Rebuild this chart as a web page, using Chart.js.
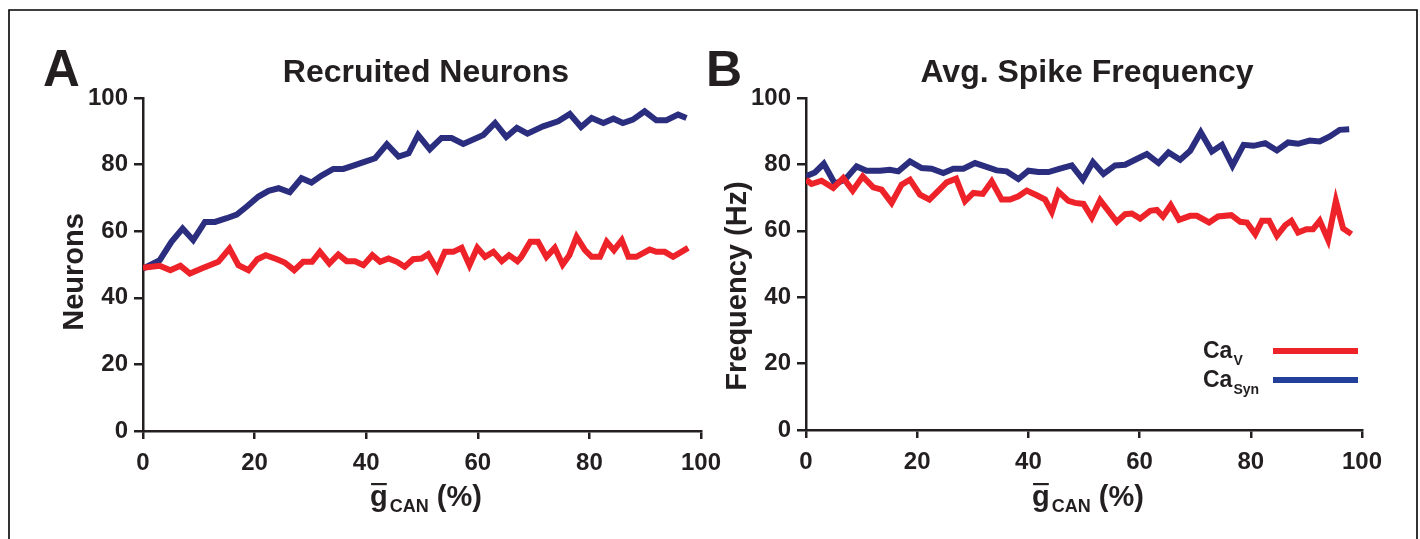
<!DOCTYPE html>
<html><head><meta charset="utf-8">
<script src="https://cdn.jsdelivr.net/npm/chart.js@4.4.1/dist/chart.umd.min.js"></script>
<style>
html,body{margin:0;padding:0;background:#fff;}
#wrap{position:relative;width:1420px;height:539px;overflow:hidden;background:#fff;}
canvas{position:absolute;left:0;top:0;}
</style></head><body>
<div id="wrap"><canvas id="cA" width="1420" height="539"></canvas><canvas id="cB" width="1420" height="539"></canvas></div>
<script>
// ---------- tick labels ----------
const xTicks = [0, 20, 40, 60, 80, 100];
const yTicks = [0, 20, 40, 60, 80, 100];

// ---------- Panel A: Recruited Neurons ----------
const neuronsCaV_x = [0, 3.0, 4.9, 6.7, 8.4, 10.5, 13.5, 15.5, 17.1, 18.9, 20.5, 22.0, 24.0, 25.4, 27.1, 28.7, 30.3, 31.7, 33.4, 35.0, 36.5, 38.0, 39.5, 41.1, 42.5, 44.0, 45.5, 46.9, 48.4, 49.9, 51.1, 52.7, 54.1, 55.6, 57.1, 58.5, 59.9, 61.3, 62.8, 64.3, 65.6, 67.1, 67.8, 69.4, 70.8, 72.3, 73.8, 75.2, 76.4, 77.7, 79.2, 80.4, 81.9, 83.1, 84.4, 85.8, 87.0, 88.4, 90.8, 92.0, 93.5, 95.0, 97.7];
const neuronsCaV_y = [49.0, 49.6, 48.3, 49.6, 47.3, 48.8, 50.8, 54.8, 49.8, 48.3, 51.6, 52.8, 51.6, 50.6, 48.3, 50.8, 50.8, 53.8, 50.3, 53.0, 51.0, 51.0, 49.8, 52.8, 50.8, 51.8, 50.8, 49.3, 51.6, 51.8, 53.1, 48.5, 53.8, 53.8, 55.0, 49.8, 55.0, 52.3, 53.8, 51.0, 52.8, 51.0, 52.3, 56.8, 56.8, 52.3, 55.0, 50.0, 52.8, 58.3, 54.3, 52.3, 52.3, 56.8, 54.3, 57.3, 52.3, 52.3, 54.5, 53.8, 53.8, 52.3, 55.0];
const neuronsCaSyn_x = [0, 3.0, 5.1, 7.1, 9.0, 11.1, 12.9, 15.0, 16.8, 18.6, 20.7, 22.5, 24.3, 26.3, 28.4, 30.2, 32.0, 34.1, 35.9, 37.7, 39.8, 41.6, 43.7, 45.8, 47.6, 49.3, 51.4, 53.5, 55.3, 57.4, 61.0, 63.1, 65.1, 67.0, 68.9, 71.7, 74.4, 76.5, 78.5, 80.4, 82.5, 84.3, 86.0, 87.8, 89.9, 92.0, 93.8, 95.9, 97.4];
const neuronsCaSyn_y = [48.8, 51.3, 56.8, 60.8, 57.3, 62.8, 62.8, 63.9, 65.0, 67.4, 70.4, 72.1, 72.9, 71.7, 75.9, 74.6, 76.7, 78.7, 78.7, 79.7, 80.9, 81.9, 86.1, 82.4, 83.4, 88.9, 84.6, 88.0, 88.0, 86.2, 88.9, 92.5, 88.3, 91.0, 89.3, 91.5, 93.0, 95.2, 91.3, 94.0, 92.5, 93.8, 92.5, 93.5, 96.0, 93.3, 93.3, 95.0, 94.0];

// ---------- Panel B: Avg. Spike Frequency ----------
const freqCaV_x = [0, 1.0, 2.8, 4.9, 6.7, 8.4, 10.2, 12.1, 13.6, 15.4, 17.2, 18.7, 20.5, 22.2, 24.0, 25.3, 27.0, 28.6, 30.1, 31.8, 33.4, 35.2, 36.7, 38.2, 39.7, 41.5, 43.0, 44.2, 45.4, 47.2, 48.4, 49.9, 51.4, 52.9, 55.9, 57.4, 58.6, 60.1, 61.9, 63.1, 64.2, 65.6, 67.1, 69.1, 70.3, 72.5, 74.1, 76.5, 78.1, 79.3, 80.8, 82.0, 83.3, 84.7, 86.2, 87.3, 88.5, 90.0, 91.2, 92.4, 93.9, 95.3, 96.6, 98.1];
const freqCaV_y = [75.4, 74.1, 75.1, 72.9, 75.9, 72.1, 76.4, 73.1, 72.4, 68.4, 73.9, 75.4, 70.9, 69.4, 72.4, 74.6, 75.7, 68.9, 71.4, 71.1, 74.9, 69.4, 69.4, 70.4, 72.1, 70.7, 69.4, 65.7, 71.8, 69.0, 68.4, 68.1, 64.0, 69.2, 62.7, 65.0, 65.2, 63.7, 66.0, 66.3, 64.3, 67.7, 63.3, 64.5, 64.5, 62.5, 64.3, 64.7, 62.7, 62.5, 59.0, 63.0, 63.0, 58.5, 61.7, 63.0, 59.5, 60.5, 60.5, 63.0, 57.3, 69.0, 60.7, 59.0];
const freqCaSyn_x = [0, 1.6, 3.2, 5.2, 7.0, 9.1, 10.9, 13.3, 15.1, 16.6, 18.7, 20.8, 22.6, 24.7, 26.5, 28.3, 30.4, 32.2, 34.3, 36.1, 38.2, 40.0, 41.8, 43.6, 45.7, 47.8, 49.8, 51.6, 53.5, 55.6, 57.4, 59.2, 61.3, 63.4, 65.2, 67.3, 69.1, 71.0, 73.0, 74.8, 76.7, 78.7, 80.5, 82.6, 84.7, 86.7, 88.5, 90.6, 92.4, 94.2, 96.0, 97.7];
const freqCaSyn_y = [76.4, 77.6, 80.2, 74.2, 75.4, 79.4, 78.1, 78.1, 78.4, 77.9, 80.9, 78.9, 78.7, 77.4, 78.7, 78.7, 80.4, 79.4, 78.2, 77.9, 75.6, 78.1, 77.7, 77.7, 78.7, 79.7, 75.4, 80.7, 77.1, 79.7, 79.9, 81.4, 83.1, 80.4, 83.6, 81.4, 84.1, 89.7, 83.9, 85.9, 79.6, 85.9, 85.6, 86.4, 84.2, 86.6, 86.2, 87.2, 86.9, 88.4, 90.4, 90.6];

// ---------- styling ----------
const FONT = '"Liberation Sans", Arial, Helvetica, sans-serif';
const INK = '#231F20';
const RED = '#EE2229';
const BLUE = '#2B2E7E';
const LEG_BLUE = '#22409A';

function pts(xs, ys) { return xs.map((x, i) => ({ x: x, y: ys[i] })); }

function axisOpts(isX, fitSize, tickLen, pad, ticksArr) {
  return {
    type: 'linear',
    min: 0, max: 100,
    afterBuildTicks: s => { s.ticks = ticksArr.map(v => ({ value: v })); },
    afterFit: s => { if (isX) s.height = fitSize; else s.width = fitSize; },
    ticks: {
      color: INK, padding: pad, autoSkip: false, maxRotation: 0, minRotation: 0,
      font: { family: FONT, size: 24, weight: 'bold' },
      callback: v => String(v)
    },
    grid: { display: true, drawOnChartArea: false, drawTicks: true, tickLength: tickLen, lineWidth: 2.5, color: INK, tickColor: INK },
    border: { display: true, width: 2.5, color: INK }
  };
}

function xTitle(ctx, cx, baseline) {
  const big = 'bold 29px ' + FONT, small = 'bold 18px ' + FONT;
  ctx.font = big; const wg = ctx.measureText('g').width;
  const wsp = ctx.measureText(' ').width; const wp = ctx.measureText('(%)').width;
  ctx.font = small; const wc = ctx.measureText('CAN').width;
  const total = wg + 2 + wc + wsp + wp;
  let x = cx - total / 2;
  ctx.fillStyle = INK; ctx.textAlign = 'left'; ctx.textBaseline = 'alphabetic';
  ctx.font = big; ctx.fillText('g', x, baseline);
  ctx.fillRect(x + 1, baseline - 23, wg - 2, 2.2);
  x += wg + 2;
  ctx.font = small; ctx.fillText('CAN', x, baseline + 6);
  x += wc + wsp;
  ctx.font = big; ctx.fillText('(%)', x, baseline);
}

function yTitle(ctx, text, bx, cy) {
  ctx.save();
  ctx.translate(bx, cy); ctx.rotate(-Math.PI / 2);
  ctx.font = 'bold 29px ' + FONT; ctx.fillStyle = INK;
  ctx.textAlign = 'center'; ctx.textBaseline = 'alphabetic';
  ctx.fillText(text, 0, 0);
  ctx.restore();
}

function textAt(ctx, text, x, y, font, align) {
  ctx.font = font; ctx.fillStyle = INK; ctx.textAlign = align; ctx.textBaseline = 'alphabetic';
  ctx.fillText(text, x, y);
}

const decorA = {
  id: 'decorA',
  afterDraw(chart) {
    const ctx = chart.ctx, a = chart.chartArea;
    ctx.save();
    // figure frame
    ctx.strokeStyle = '#000'; ctx.lineWidth = 1.6;
    ctx.beginPath(); ctx.moveTo(9, 539); ctx.lineTo(9, 10); ctx.lineTo(1417, 10); ctx.lineTo(1417, 539); ctx.stroke();
    textAt(ctx, 'A', 43, 86, 'bold 51px ' + FONT, 'left');
    textAt(ctx, 'Recruited Neurons', (a.left + a.right) / 2 + 4, 82, 'bold 32px ' + FONT, 'center');
    yTitle(ctx, 'Neurons', 83, 272);
    xTitle(ctx, (a.left + a.right) / 2 + 4, 506);
    ctx.restore();
  }
};

const decorB = {
  id: 'decorB',
  afterDraw(chart) {
    const ctx = chart.ctx, a = chart.chartArea;
    ctx.save();
    textAt(ctx, 'B', 706, 86, 'bold 50px ' + FONT, 'left');
    textAt(ctx, 'Avg. Spike Frequency', 1087, 82, 'bold 32px ' + FONT, 'center');
    yTitle(ctx, 'Frequency (Hz)', 746, 286);
    xTitle(ctx, (a.left + a.right) / 2 + 4, 506);
    // legend
    const legend = [['V', RED, 358], ['Syn', LEG_BLUE, 387]];
    legend.forEach(([sub, col, base]) => {
      textAt(ctx, 'Ca', 1203, base, 'bold 23px ' + FONT, 'left');
      ctx.font = 'bold 23px ' + FONT; const w = ctx.measureText('Ca').width;
      textAt(ctx, sub, 1203 + w + 1, base + 7, 'bold 14px ' + FONT, 'left');
      ctx.strokeStyle = col; ctx.lineWidth = 6; ctx.lineCap = 'butt';
      ctx.beginPath(); ctx.moveTo(1273, base - 7); ctx.lineTo(1358, base - 7); ctx.stroke();
    });
    ctx.restore();
  }
};

function lineDs(label, data, color) {
  return { label: label, data: data, borderColor: color, backgroundColor: color, borderWidth: 6,
           pointRadius: 0, tension: 0, fill: false, borderJoinStyle: 'miter', borderCapStyle: 'butt' };
}

function makeChart(id, datasets, padding, plugin) {
  return new Chart(document.getElementById(id), {
    type: 'line',
    data: { datasets: datasets },
    options: {
      responsive: false, animation: false, devicePixelRatio: 1,
      parsing: false, normalized: true,
      layout: { padding: padding },
      plugins: { legend: { display: false }, tooltip: { enabled: false }, title: { display: false } },
      scales: {
        x: axisOpts(true, 50, 8, 10, xTicks),
        y: axisOpts(false, 60, 9, 6, yTicks)
      }
    },
    plugins: [plugin]
  });
}

makeChart('cA', [
  lineDs('CaV', pts(neuronsCaV_x, neuronsCaV_y), RED),
  lineDs('CaSyn', pts(neuronsCaSyn_x, neuronsCaSyn_y), BLUE)
], { left: 83, right: 719, top: 98, bottom: 58 }, decorA);

makeChart('cB', [
  lineDs('CaV', pts(freqCaV_x, freqCaV_y), RED),
  lineDs('CaSyn', pts(freqCaSyn_x, freqCaSyn_y), BLUE)
], { left: 746, right: 58, top: 98, bottom: 59 }, decorB);
</script>
</body></html>
